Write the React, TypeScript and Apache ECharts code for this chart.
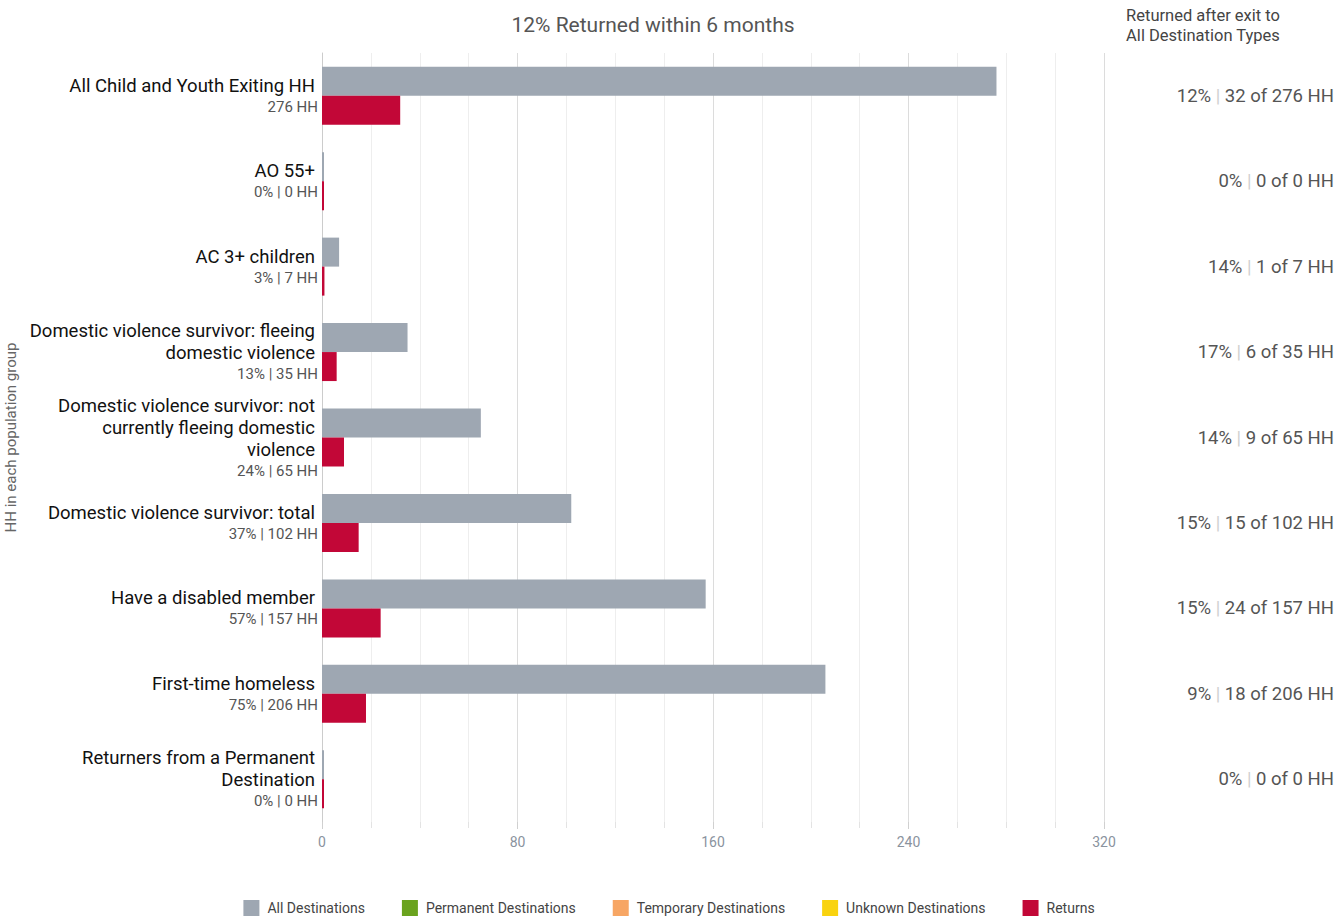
import React, { useEffect, useRef } from "react";
import * as echarts from "echarts";

const categories = [
  "All Child and Youth Exiting HH",
  "AO 55+",
  "AC 3+ children",
  "Domestic violence survivor: fleeing\ndomestic violence",
  "Domestic violence survivor: not\ncurrently fleeing domestic\nviolence",
  "Domestic violence survivor: total",
  "Have a disabled member",
  "First-time homeless",
  "Returners from a Permanent\nDestination",
];
const allDestinations = [276, 0, 7, 35, 65, 102, 157, 206, 0];
const returns = [32, 0, 1, 6, 9, 15, 24, 18, 0];
const populationShare: (number | null)[] = [null, 0, 3, 13, 24, 37, 57, 75, 0];
const returnPct = [12, 0, 14, 17, 14, 15, 15, 9, 0];
const xTicks = [0, 80, 160, 240, 320];

const FONT = "Roboto, 'Noto Sans', sans-serif";

export default function App() {
  const ref = useRef<HTMLDivElement>(null);
  useEffect(() => {
    document.body.style.margin = "0";
    const chart = echarts.init(ref.current!, undefined, { renderer: "svg" });
    const leftLabels = categories.map((c, i) => {
      const lines = c.split("\n").map((l) => `{n|${l}}`).join("\n");
      const sub =
        populationShare[i] === null
          ? `${allDestinations[i]} HH`
          : `${populationShare[i]}% | ${allDestinations[i]} HH`;
      return `${lines}\n{s|${sub}}`;
    });
    const rightLabels = categories.map(
      (_, i) => `{p|${returnPct[i]}%}{sep| | }{p|${returns[i]} of ${allDestinations[i]} HH}`
    );
    chart.setOption({
      animation: false,
      textStyle: { fontFamily: FONT },
      graphic: [
        {
          type: "text",
          x: 653,
          y: 25,
          style: {
            text: "12% Returned within 6 months",
            font: `21px ${FONT}`,
            fill: "#555",
            textAlign: "center",
            textVerticalAlign: "middle",
          },
        },
        {
          type: "text",
          x: 1203,
          y: 25,
          style: {
            text: "Returned after exit to\nAll Destination Types",
            font: `16.5px ${FONT}`,
            lineHeight: 20,
            fill: "#444",
            textAlign: "center",
            textVerticalAlign: "middle",
          },
        },
      ],
      legend: {
        bottom: -4,
        left: "center",
        icon: "rect",
        itemWidth: 16,
        itemHeight: 16,
        itemGap: 37,
        textStyle: { fontSize: 14, color: "#444", fontFamily: FONT, padding: [0, 0, 0, 3] },
        data: [
          "All Destinations",
          "Permanent Destinations",
          "Temporary Destinations",
          "Unknown Destinations",
          "Returns",
        ],
      },
      grid: { left: 322, right: 234, top: 53, bottom: 95, containLabel: false, outerBoundsMode: "none" },
      xAxis: [
        {
          type: "value",
          min: 0,
          max: 320,
          interval: 20,
          axisLine: { show: false },
          axisTick: { show: true, length: 6, lineStyle: { color: "#e3e3e3" } },
          splitLine: { show: true, lineStyle: { color: "#eeeeee" } },
          axisLabel: {
            color: "#8a939e",
            fontSize: 14,
            margin: 13,
            formatter: (v: number) => (xTicks.includes(v) ? String(v) : ""),
          },
        },
        {
          type: "value",
          min: 0,
          max: 320,
          interval: 80,
          position: "bottom",
          axisLine: { show: false },
          axisTick: { show: true, length: 7, lineStyle: { color: "#d0d0d0" } },
          splitLine: { show: true, lineStyle: { color: "#dcdcdc" } },
          axisLabel: { show: false },
        },
      ],
      yAxis: [
        {
          type: "category",
          inverse: true,
          data: categories,
          name: "HH in each population group",
          nameLocation: "middle",
          nameGap: 297,
          nameTextStyle: { color: "#666", fontSize: 15, fontFamily: FONT },
          axisLine: { show: true, lineStyle: { color: "#cccccc", width: 1 } },
          axisTick: { show: false },
          axisLabel: {
            margin: 4,
            align: "right",
            formatter: (_: string, i: number) => leftLabels[i],
            rich: {
              n: { fontSize: 18.5, color: "#111", lineHeight: 22, fontFamily: FONT, align: "right", padding: [0, 3, 0, 0] },
              s: { fontSize: 15, color: "#555", lineHeight: 20, fontFamily: FONT, align: "right" },
            },
          },
        },
        {
          type: "category",
          inverse: true,
          position: "right",
          data: categories,
          axisLine: { show: false },
          axisTick: { show: false },
          axisLabel: {
            margin: 230,
            align: "right",
            formatter: (_: string, i: number) => rightLabels[i],
            rich: {
              p: { fontSize: 18.5, color: "#555", fontFamily: FONT },
              sep: { fontSize: 18.5, color: "#cfcfcf", fontFamily: FONT },
            },
          },
        },
      ],
      series: [
        {
          name: "All Destinations",
          type: "bar",
          stack: "dest",
          data: allDestinations,
          itemStyle: { color: "#9ea7b2" },
          barWidth: 29,
          barGap: "0%",
          barMinHeight: 2,
        },
        { name: "Permanent Destinations", type: "bar", stack: "dest", data: [], itemStyle: { color: "#6aa31e" } },
        { name: "Temporary Destinations", type: "bar", stack: "dest", data: [], itemStyle: { color: "#f7a664" } },
        { name: "Unknown Destinations", type: "bar", stack: "dest", data: [], itemStyle: { color: "#f9d30f" } },
        {
          name: "Returns",
          type: "bar",
          data: returns,
          itemStyle: { color: "#c20737" },
          barWidth: 29,
          barGap: "0%",
          barMinHeight: 2,
        },
      ],
    });
    return () => chart.dispose();
  }, []);
  return <div ref={ref} style={{ width: 1338, height: 917 }} />;
}
